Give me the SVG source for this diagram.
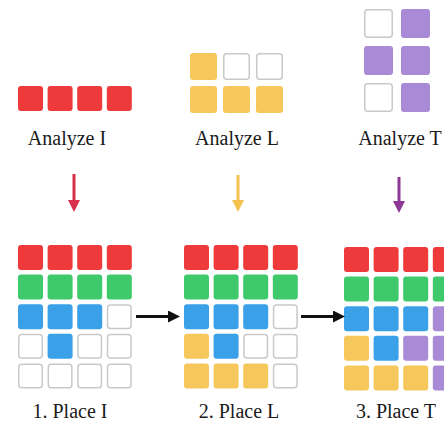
<svg xmlns="http://www.w3.org/2000/svg" width="444" height="423" viewBox="0 0 444 423">
<style>
.r{fill:#ee3a3a}.g{fill:#3ec96a}.b{fill:#3aa0e8}.y{fill:#f6c85b}.p{fill:#a98ad6}
.e{fill:#fff;stroke:#c9c9c9;stroke-width:1.5}
text{font-family:"Liberation Serif","Times New Roman",serif;font-size:20px;fill:#1a1a1a;text-anchor:middle}
</style>
<defs>
<symbol id="c" overflow="visible"><rect width="25" height="25" rx="3"/></symbol>
<marker id="hk" markerWidth="4" markerHeight="4" refX="2" refY="2" orient="auto" markerUnits="strokeWidth"><path d="M0,0L4,2L0,4Z" fill="#111"/></marker>
<marker id="hr" markerWidth="4" markerHeight="4" refX="2" refY="2" orient="auto" markerUnits="strokeWidth"><path d="M0,0L4,2L0,4Z" fill="#d8304a"/></marker>
<marker id="hy" markerWidth="4" markerHeight="4" refX="2" refY="2" orient="auto" markerUnits="strokeWidth"><path d="M0,0L4,2L0,4Z" fill="#f3c14e"/></marker>
<marker id="hp" markerWidth="4" markerHeight="4" refX="2" refY="2" orient="auto" markerUnits="strokeWidth"><path d="M0,0L4,2L0,4Z" fill="#8e3896"/></marker>
</defs>
<rect width="444" height="423" fill="#fff"/>

<g id="analyze-i">
<rect class="r" x="18" y="86" width="25" height="25" rx="3"/>
<rect class="r" x="47.6" y="86" width="25" height="25" rx="3"/>
<rect class="r" x="77.2" y="86" width="25" height="25" rx="3"/>
<rect class="r" x="106.8" y="86" width="25" height="25" rx="3"/>
<text x="67" y="145">Analyze I</text>
</g>

<g id="analyze-l">
<rect class="y" x="190" y="53" width="27" height="27" rx="3"/>
<rect class="e" x="223.75" y="53.75" width="25.5" height="25.5" rx="3"/>
<rect class="e" x="256.75" y="53.75" width="25.5" height="25.5" rx="3"/>
<rect class="y" x="190" y="86" width="27" height="27" rx="3"/>
<rect class="y" x="223" y="86" width="27" height="27" rx="3"/>
<rect class="y" x="256" y="86" width="27" height="27" rx="3"/>
<text x="237" y="145">Analyze L</text>
</g>

<g id="analyze-t">
<rect class="e" x="364.75" y="9.75" width="27.5" height="27.5" rx="3"/>
<rect class="p" x="401" y="9" width="29" height="29" rx="3"/>
<rect class="p" x="364" y="46" width="29" height="29" rx="3"/>
<rect class="p" x="401" y="46" width="29" height="29" rx="3"/>
<rect class="e" x="364.75" y="83.75" width="27.5" height="27.5" rx="3"/>
<rect class="p" x="401" y="83" width="29" height="29" rx="3"/>
<text x="400" y="145">Analyze T</text>
</g>

<g id="place-i">
<rect class="r" x="18" y="245" width="25" height="25" rx="3"/>
<rect class="r" x="47.6" y="245" width="25" height="25" rx="3"/>
<rect class="r" x="77.2" y="245" width="25" height="25" rx="3"/>
<rect class="r" x="106.8" y="245" width="25" height="25" rx="3"/>
<rect class="g" x="18" y="274.6" width="25" height="25" rx="3"/>
<rect class="g" x="47.6" y="274.6" width="25" height="25" rx="3"/>
<rect class="g" x="77.2" y="274.6" width="25" height="25" rx="3"/>
<rect class="g" x="106.8" y="274.6" width="25" height="25" rx="3"/>
<rect class="b" x="18" y="304.2" width="25" height="25" rx="3"/>
<rect class="b" x="47.6" y="304.2" width="25" height="25" rx="3"/>
<rect class="b" x="77.2" y="304.2" width="25" height="25" rx="3"/>
<rect class="e" x="107.55" y="304.95" width="23.5" height="23.5" rx="3"/>
<rect class="e" x="18.75" y="334.55" width="23.5" height="23.5" rx="3"/>
<rect class="b" x="47.6" y="333.8" width="25" height="25" rx="3"/>
<rect class="e" x="77.95" y="334.55" width="23.5" height="23.5" rx="3"/>
<rect class="e" x="107.55" y="334.55" width="23.5" height="23.5" rx="3"/>
<rect class="e" x="18.75" y="364.15" width="23.5" height="23.5" rx="3"/>
<rect class="e" x="48.35" y="364.15" width="23.5" height="23.5" rx="3"/>
<rect class="e" x="77.95" y="364.15" width="23.5" height="23.5" rx="3"/>
<rect class="e" x="107.55" y="364.15" width="23.5" height="23.5" rx="3"/>
<text x="70" y="418">1. Place I</text>
</g>

<g id="place-l">
<rect class="r" x="184" y="245" width="25" height="25" rx="3"/>
<rect class="r" x="213.6" y="245" width="25" height="25" rx="3"/>
<rect class="r" x="243.2" y="245" width="25" height="25" rx="3"/>
<rect class="r" x="272.8" y="245" width="25" height="25" rx="3"/>
<rect class="g" x="184" y="274.6" width="25" height="25" rx="3"/>
<rect class="g" x="213.6" y="274.6" width="25" height="25" rx="3"/>
<rect class="g" x="243.2" y="274.6" width="25" height="25" rx="3"/>
<rect class="g" x="272.8" y="274.6" width="25" height="25" rx="3"/>
<rect class="b" x="184" y="304.2" width="25" height="25" rx="3"/>
<rect class="b" x="213.6" y="304.2" width="25" height="25" rx="3"/>
<rect class="b" x="243.2" y="304.2" width="25" height="25" rx="3"/>
<rect class="e" x="273.55" y="304.95" width="23.5" height="23.5" rx="3"/>
<rect class="y" x="184" y="333.8" width="25" height="25" rx="3"/>
<rect class="b" x="213.6" y="333.8" width="25" height="25" rx="3"/>
<rect class="e" x="243.95" y="334.55" width="23.5" height="23.5" rx="3"/>
<rect class="e" x="273.55" y="334.55" width="23.5" height="23.5" rx="3"/>
<rect class="y" x="184" y="363.4" width="25" height="25" rx="3"/>
<rect class="y" x="213.6" y="363.4" width="25" height="25" rx="3"/>
<rect class="y" x="243.2" y="363.4" width="25" height="25" rx="3"/>
<rect class="e" x="273.55" y="364.15" width="23.5" height="23.5" rx="3"/>
<text x="239" y="418">2. Place L</text>
</g>

<g id="place-t">
<rect class="r" x="344" y="247" width="25" height="25" rx="3"/>
<rect class="r" x="373.6" y="247" width="25" height="25" rx="3"/>
<rect class="r" x="403.2" y="247" width="25" height="25" rx="3"/>
<rect class="r" x="432.8" y="247" width="25" height="25" rx="3"/>
<rect class="g" x="344" y="276.6" width="25" height="25" rx="3"/>
<rect class="g" x="373.6" y="276.6" width="25" height="25" rx="3"/>
<rect class="g" x="403.2" y="276.6" width="25" height="25" rx="3"/>
<rect class="g" x="432.8" y="276.6" width="25" height="25" rx="3"/>
<rect class="b" x="344" y="306.2" width="25" height="25" rx="3"/>
<rect class="b" x="373.6" y="306.2" width="25" height="25" rx="3"/>
<rect class="b" x="403.2" y="306.2" width="25" height="25" rx="3"/>
<rect class="p" x="432.8" y="306.2" width="25" height="25" rx="3"/>
<rect class="y" x="344" y="335.8" width="25" height="25" rx="3"/>
<rect class="b" x="373.6" y="335.8" width="25" height="25" rx="3"/>
<rect class="p" x="403.2" y="335.8" width="25" height="25" rx="3"/>
<rect class="p" x="432.8" y="335.8" width="25" height="25" rx="3"/>
<rect class="y" x="344" y="365.4" width="25" height="25" rx="3"/>
<rect class="y" x="373.6" y="365.4" width="25" height="25" rx="3"/>
<rect class="y" x="403.2" y="365.4" width="25" height="25" rx="3"/>
<rect class="p" x="432.8" y="365.4" width="25" height="25" rx="3"/>
<text x="396" y="418">3. Place T</text>
</g>

<g id="connectors" fill="none" stroke-width="3">
<line x1="74" y1="174" x2="74" y2="206" stroke="#d8304a" marker-end="url(#hr)"/>
<line x1="238" y1="175" x2="238" y2="206" stroke="#f3c14e" marker-end="url(#hy)"/>
<line x1="399" y1="177" x2="399" y2="207" stroke="#8e3896" marker-end="url(#hp)"/>
<line x1="136" y1="316.5" x2="174" y2="316.5" stroke="#111" marker-end="url(#hk)"/>
<line x1="301" y1="316.5" x2="339" y2="316.5" stroke="#111" marker-end="url(#hk)"/>
</g>
</svg>
